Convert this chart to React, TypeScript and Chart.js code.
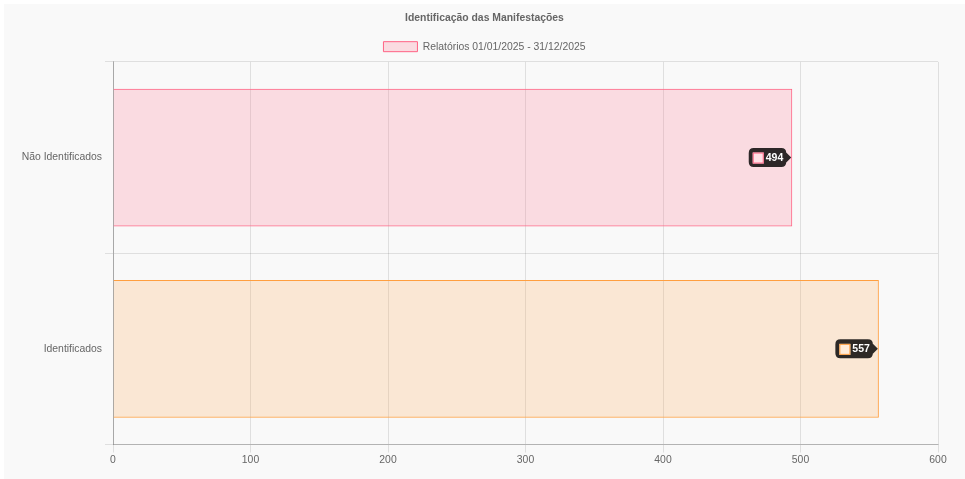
import React, { useEffect, useRef } from "react";
import { Chart, registerables } from "chart.js";

Chart.register(...registerables);

const categories = ["Não Identificados", "Identificados"];
const values = [494, 557];
const datasetLabel = "Relatórios 01/01/2025 - 31/12/2025";
const titleText = "Identificação das Manifestações";
const fillColors = ["rgba(255, 99, 132, 0.2)", "rgba(255, 159, 64, 0.2)"];
const borderColors = ["rgb(255, 99, 132)", "rgb(255, 159, 64)"];
const xMin = 0;
const xMax = 600;
const xStep = 100;

const FONT = "Arial, 'Liberation Sans', Helvetica, sans-serif";
const FS = 10.4;

const labelPlugin = {
  id: "alwaysTooltip",
  afterDatasetsDraw(chart: any) {
    const ctx = chart.ctx;
    const meta = chart.getDatasetMeta(0);
    ctx.save();
    meta.data.forEach((bar: any, i: number) => {
      const text = String(values[i]);
      ctx.font = `bold 10.5px ${FONT}`;
      const tw = ctx.measureText(text).width;
      const tipX = bar.x - 1;
      const cy = bar.y;
      const caret = 5;
      const h = 19;
      const w = 4 + 11 + 2 + tw + 3;
      const right = tipX - caret;
      const left = right - w;
      const top = cy - h / 2;
      const r = 5;
      ctx.fillStyle = "rgba(0,0,0,0.82)";
      ctx.beginPath();
      ctx.moveTo(left + r, top);
      ctx.lineTo(right - r, top);
      ctx.quadraticCurveTo(right, top, right, top + r);
      ctx.lineTo(right, cy - caret);
      ctx.lineTo(tipX, cy);
      ctx.lineTo(right, cy + caret);
      ctx.lineTo(right, top + h - r);
      ctx.quadraticCurveTo(right, top + h, right - r, top + h);
      ctx.lineTo(left + r, top + h);
      ctx.quadraticCurveTo(left, top + h, left, top + h - r);
      ctx.lineTo(left, top + r);
      ctx.quadraticCurveTo(left, top, left + r, top);
      ctx.closePath();
      ctx.fill();
      // color box
      const bx = left + 4;
      const by = cy - 5;
      ctx.fillStyle = "#fff";
      ctx.fillRect(bx, by, 11, 11);
      ctx.fillStyle = fillColors[i];
      ctx.fillRect(bx, by, 11, 11);
      ctx.strokeStyle = borderColors[i];
      ctx.lineWidth = 1;
      ctx.strokeRect(bx + 0.5, by + 0.5, 10, 10);
      ctx.fillStyle = "#fff";
      ctx.textBaseline = "middle";
      ctx.textAlign = "left";
      ctx.fillText(text, bx + 13, cy + 0.5);
    });
    ctx.restore();
  },
};

export default function App() {
  const ref = useRef<HTMLCanvasElement>(null);
  useEffect(() => {
    if (!ref.current) return;
    const chart = new Chart(ref.current, {
      type: "bar",
      data: {
        labels: categories,
        datasets: [
          {
            label: datasetLabel,
            data: values,
            backgroundColor: fillColors,
            borderColor: borderColors,
            borderWidth: 1,
          },
        ],
      },
      options: {
        indexAxis: "y",
        animation: false,
        responsive: false,
        maintainAspectRatio: false,
        layout: { padding: { left: 17, right: 17, top: 0, bottom: 12 } },
        scales: {
          x: {
            min: xMin,
            max: xMax,
            ticks: { stepSize: xStep, padding: 1, color: "#666", font: { family: FONT, size: FS } },
            grid: { color: "rgba(0,0,0,0.1)", tickLength: 8 },
            border: { color: "rgba(0,0,0,0.2)" },
          },
          y: {
            afterFit: (scale: any) => {
              scale.width = 92;
            },
            ticks: { color: "#666", font: { family: FONT, size: FS } },
            grid: { color: "rgba(0,0,0,0.1)", tickLength: 8 },
            border: { color: "rgba(0,0,0,0.25)", width: 1 },
          },
          ySpacer: {
            type: "category",
            position: "right",
            display: true,
            afterFit: (scale: any) => {
              scale.width = 10;
            },
            ticks: { display: false },
            grid: { display: false, drawTicks: false },
            border: { display: false },
          },
        },
        plugins: {
          title: {
            display: true,
            text: titleText,
            color: "#666",
            font: { family: FONT, size: FS, weight: "bold" },
            padding: { top: 8, bottom: 7 },
          },
          legend: {
            labels: {
              color: "#666",
              boxWidth: 34,
              boxHeight: 10,
              padding: 10,
              font: { family: FONT, size: FS },
            },
          },
          tooltip: { enabled: false },
        },
      },
      plugins: [labelPlugin],
    } as any);
    return () => chart.destroy();
  }, []);
  return (
    <div
      style={{
        position: "absolute",
        left: 4,
        top: 4,
        width: 961,
        height: 475,
        background: "#f9f9f9",
      }}
    >
      <canvas ref={ref} width={961} height={475} style={{ display: "block" }} />
    </div>
  );
}
